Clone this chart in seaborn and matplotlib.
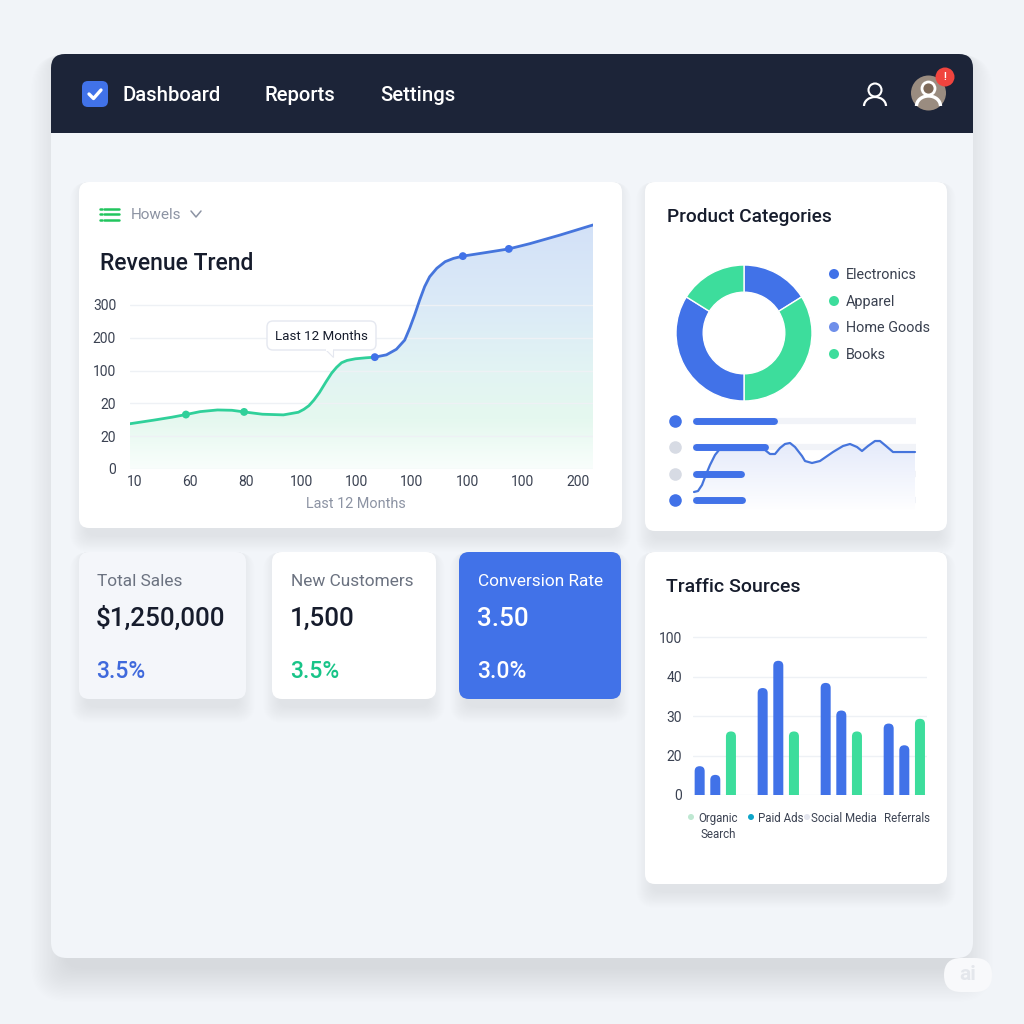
import matplotlib
matplotlib.use("Agg")
import matplotlib.pyplot as plt
from matplotlib.patches import FancyBboxPatch, Circle, Arc, Polygon, Rectangle
from matplotlib.transforms import ScaledTranslation
import seaborn as sns
import numpy as np
import pandas as pd

# Revenue trend, in grid steps as drawn (the axis labels are not linear)
rev_ticks = [0, 1, 2, 3, 4, 5]
rev_tick_labels = ['0', '20', '20', '100', '200', '300']
month_ticks = [0, 1, 2, 3, 4, 5, 6, 7, 8]
month_labels = ['10', '60', '80', '100', '100', '100', '100', '100', '200']
rev_x = [-0.09, 0.34, 0.67, 0.92, 1.18, 1.49, 1.75, 1.97, 2.30, 2.68, 2.95, 3.05, 3.14, 3.23, 3.33, 3.45, 3.55, 3.64,
         3.73, 3.83, 3.98, 4.17, 4.33, 4.54, 4.72, 4.87, 4.96, 5.05, 5.14, 5.23, 5.32, 5.45, 5.60, 5.75, 5.92, 6.34,
         6.75, 7.13, 7.67, 8.27]
rev_y = [1.38, 1.49, 1.58, 1.66, 1.75, 1.80, 1.79, 1.74, 1.67, 1.65, 1.73, 1.82, 1.93, 2.10, 2.33, 2.66, 2.92, 3.10,
         3.24, 3.31, 3.36, 3.39, 3.41, 3.48, 3.65, 3.93, 4.29, 4.70, 5.15, 5.56, 5.86, 6.12, 6.32, 6.42, 6.49, 6.60,
         6.71, 6.87, 7.13, 7.44]
rev_split = 22
marker_idx = [3, 7, 22, 34, 36]

# Product categories
cat_names = ['Electronics', 'Apparel', 'Home Goods', 'Books']
cat_shares = [16.1, 33.9, 33.9, 16.1]

# Mini panel in the product card
progress_done = [84, 75, 51, 52]
spark_x = [1, 5, 9, 12, 17, 22, 26, 72, 77, 82, 87, 92, 97, 102, 109, 112, 119, 127, 140, 150, 157, 164, 169, 175,
           182, 187, 193, 200, 207, 222]
spark_y = [18, 19, 25, 33, 45, 55, 60, 60, 56, 56, 62, 66, 67, 63, 54, 49, 47, 49, 58, 64, 66, 63, 59, 64,
           69, 69, 64, 58, 58, 58]

# Traffic sources
traffic_cats = ['Organic\nSearch', 'Paid Ads', 'Social Media', 'Referrals']
traffic_a = [7.3, 27.1, 28.4, 18.1]
traffic_b = [5.1, 34.0, 21.4, 12.6]
traffic_c = [16.1, 16.1, 16.1, 19.3]
traffic_ticks = [0, 10, 20, 30, 40]
traffic_tick_labels = ['0', '20', '30', '40', '100']

# KPI cards
kpi_titles = ['Total Sales', 'New Customers', 'Conversion Rate']
kpi_values = ['$1,250,000', '1,500', '3.50']
kpi_changes = ['3.5%', '3.5%', '3.0%']

BLUE = '#4172E8'
GREEN = '#3DDD9C'
LINE_GREEN = '#30D09A'
LINE_BLUE = '#4675DC'
NAVY = '#1C2438'
INK = '#161C2C'
GREY = '#6F7684'
TICK = '#3B4252'
GRID = '#EEF1F5'

sns.set_theme(style="white")
plt.rcParams['font.family'] = ['Roboto', 'DejaVu Sans']

fig = plt.figure(figsize=(10.24, 10.24), dpi=100, facecolor='#F1F4F8')


def px_axes(left, top, right, bottom, zorder=1):
    ax = fig.add_axes([left / 1024, 1 - bottom / 1024, (right - left) / 1024, (bottom - top) / 1024], zorder=zorder)
    ax.patch.set_alpha(0)
    return ax


def round_box(ax, x0, y0, x1, y1, r, **kw):
    box = FancyBboxPatch((x0, y0), x1 - x0, y1 - y0, boxstyle=f"round,pad=0,rounding_size={r}", linewidth=kw.pop('lw', 0), **kw)
    ax.add_patch(box)
    return box


def card(ax, x0, y0, x1, y1, r=10, color='white', spread=16, drop=8, inset=7, alpha=0.0022, layers=18):
    # soft shadow from stacked boxes, mostly below the card
    for s in np.linspace(spread, 0.5, layers):
        side = s - inset
        round_box(ax, x0 - side, y0, x1 + side, y1 + drop + s, r + max(side, 0), facecolor='#4A5A7A', alpha=alpha)
    round_box(ax, x0, y0, x1, y1, r, facecolor=color)


bg = px_axes(0, 0, 1024, 1024, zorder=0)
bg.set_xlim(0, 1024)
bg.set_ylim(1024, 0)
bg.axis('off')

top = px_axes(0, 0, 1024, 1024, zorder=3)
top.set_xlim(0, 1024)
top.set_ylim(1024, 0)
top.axis('off')

# main panel + nav bar
card(bg, 51, 54, 973, 958, r=16, color='#F2F5F9', spread=34, drop=10, inset=14, alpha=0.004, layers=26)
round_box(bg, 51, 54, 973, 110, 14, facecolor=NAVY)
bg.add_patch(Rectangle((51, 75), 922, 57.5, facecolor=NAVY, linewidth=0))

round_box(bg, 82, 81, 108, 107, 6, facecolor=BLUE)
bg.plot([89, 93.5, 101], [94, 98.5, 90], color='white', lw=2.4, solid_capstyle='round', solid_joinstyle='round')
for label, x in zip(['Dashboard', 'Reports', 'Settings'], [122, 265, 380]):
    bg.text(x, 95.5, label, color='white', fontsize=14.6, va='center', ha='left', fontweight='medium')

# nav icons
bg.add_patch(Circle((875, 90), 6.5, fill=False, ec='white', lw=1.5))
bg.add_patch(Arc((875, 106), 22, 18, theta1=180, theta2=360, ec='white', lw=1.6))
bg.add_patch(Circle((928.5, 93), 17.5, fc='#9A8C80', lw=0))
bg.add_patch(Circle((928.5, 88.5), 6.5, fc='#7E6A5A', ec='white', lw=2))
bg.add_patch(Arc((928.5, 106), 24, 20, theta1=180, theta2=360, ec='white', lw=2.4))
bg.add_patch(Circle((945, 77), 9.5, fc='#F0443E', lw=0))
bg.text(945, 77, '!', color='white', fontsize=7, ha='center', va='center', fontweight='bold')

# cards
card(bg, 79, 182, 622, 528)
card(bg, 645, 182, 947, 531)
card(bg, 645, 552, 947, 884)
kpi_boxes = [(79, 246, '#F4F6FA'), (272, 436, 'white'), (459, 621, BLUE)]
kpi_title_colors = ['#6B7280', '#6B7280', 'white']
kpi_value_colors = [INK, INK, 'white']
kpi_change_colors = ['#3F69DC', '#18C488', 'white']
kpi_text_x = [97, 291, 478]
for i, (x0, x1, color) in enumerate(kpi_boxes):
    card(bg, x0, 552, x1, 699, color=color)
    bg.text(kpi_text_x[i], 582, kpi_titles[i], color=kpi_title_colors[i], fontsize=12.4, va='center')
    bg.text(kpi_text_x[i] - 1, 618.5, kpi_values[i], color=kpi_value_colors[i], fontsize=18.7, va='center', fontweight='medium')
    bg.text(kpi_text_x[i] - 1, 671.5, kpi_changes[i], color=kpi_change_colors[i], fontsize=16.5, va='center', fontweight='medium')

# watermark
round_box(bg, 944, 958, 992, 992, 17, facecolor='#F8F9FB')
bg.text(968, 975, 'ai', color='#E4E7EC', fontsize=15, ha='center', va='center', fontweight='bold')

# revenue card header
for y in [208.5, 214, 219.5]:
    bg.plot([104, 119], [y, y], color='#22C55E', lw=1.8)
    bg.plot([100, 102], [y, y], color='#22C55E', lw=1.8)
bg.text(131, 215, 'Howels', color='#8C93A3', fontsize=11, va='center')
bg.plot([191, 196, 201], [211, 217, 211], color='#8C93A3', lw=1.1)
bg.text(100, 263, 'Revenue Trend', color=INK, fontsize=16.5, va='center', fontweight='medium')
bg.text(667, 217, 'Product Categories', color=INK, fontsize=13.7, va='center', fontweight='medium')
bg.text(666, 587, 'Traffic Sources', color=INK, fontsize=14, va='center', fontweight='medium')

# revenue chart
ax = px_axes(130, 222, 593, 469)
rev = pd.DataFrame({'x': rev_x, 'y': rev_y})
stops_y = [0, 1.5, 3, 5, 7.5]
stops_c = np.array([[249, 254, 252], [229, 248, 239], [226, 244, 243], [219, 234, 247], [211, 225, 248]]) / 255
ys = np.linspace(0, 7.55, 200)
grad = np.stack([np.interp(ys, stops_y, stops_c[:, k]) for k in range(3)], axis=1)[:, None, :]
area = ax.fill_between(rev_x, rev_y, 0, color='none')
img = ax.imshow(grad, extent=(-0.09, 8.27, 0, 7.55), origin='lower', aspect='auto', zorder=0)
img.set_clip_path(area.get_paths()[0], transform=ax.transData)
# overlap one row so the two colours join up
line_df = pd.concat([rev.iloc[:rev_split + 1].assign(part='a'), rev.iloc[rev_split:].assign(part='b')])
sns.lineplot(data=line_df, x='x', y='y', hue='part', palette={'a': LINE_GREEN, 'b': LINE_BLUE}, lw=2, legend=False,
             sort=False, estimator=None, ax=ax, zorder=3)
marks = rev.iloc[marker_idx]
sns.scatterplot(x=marks['x'].values, y=marks['y'].values, hue=['a', 'a', 'b', 'b', 'b'],
                palette={'a': LINE_GREEN, 'b': BLUE}, s=32, linewidth=0, legend=False, ax=ax, zorder=4)
ax.set_xlim(-0.09, 8.27)
ax.set_ylim(0, 7.53)
ax.set_xticks(month_ticks, month_labels)
ax.set_yticks(rev_ticks, rev_tick_labels)
ax.set_xlabel('')
ax.set_ylabel('')
ax.tick_params(length=0, labelsize=10, labelcolor=TICK)
ax.tick_params(axis='y', pad=10)
ax.tick_params(axis='x', pad=4)
ax.grid(axis='y', color=GRID, lw=1, zorder=1)
ax.set_axisbelow(True)
sns.despine(ax=ax, left=True, bottom=True)
bg.text(356, 504, 'Last 12 Months', color='#8C93A3', fontsize=10.4, ha='center', va='center')

# tooltip
top.add_patch(Polygon([[325, 349], [333, 349], [333, 357]], closed=True, fc='white', ec='#E5E8F0', lw=0.8))
round_box(top, 267, 321, 376, 350, 6, facecolor='white', edgecolor='#E5E8F0', lw=1)
top.add_patch(Rectangle((326, 348), 6.5, 3, fc='white', lw=0))
top.text(321.5, 336, 'Last 12 Months', color=INK, fontsize=9.6, ha='center', va='center')

# donut
pie_ax = px_axes(670, 259, 818, 407)
pie_colors = [BLUE, GREEN, BLUE, GREEN]
pie_ax.pie(cat_shares, colors=pie_colors, startangle=90, counterclock=False, radius=1,
           wedgeprops=dict(width=0.4, edgecolor='white', linewidth=1))
pie_ax.set_xlim(-74 / 68, 74 / 68)
pie_ax.set_ylim(-74 / 68, 74 / 68)
legend_colors = [BLUE, GREEN, '#6F8FEA', GREEN]
for name, color, y in zip(cat_names, legend_colors, [274, 301, 327, 354]):
    bg.add_patch(Circle((834, y), 5, fc=color, lw=0))
    bg.text(846, y + 1, name, color='#39404F', fontsize=10.4, va='center')

# mini progress panel
mini = px_axes(693, 410, 917, 510)
rows_y = [89, 63, 36, 10]
dot_colors = [BLUE, '#D7DBE4', '#D7DBE4', BLUE]
spark_fill = mini.fill_between(spark_x, spark_y, 0, color='none')
fade = np.array([[254, 254, 255], [228, 234, 250]]) / 255
fade = np.stack([np.linspace(fade[0, k], fade[1, k], 70) for k in range(3)], axis=1)[:, None, :]
fill_img = mini.imshow(fade, extent=(0, 224, 0, 70), origin='lower', aspect='auto', zorder=1)
fill_img.set_clip_path(spark_fill.get_paths()[0], transform=mini.transData)
for y, done, color in zip(rows_y, progress_done, dot_colors):
    mini.plot([0, 223], [y, y], color='#F1F3F8', lw=4.5, solid_capstyle='butt', zorder=0.5)
    mini.plot([3, done - 3], [y, y], color=BLUE, lw=5, solid_capstyle='round', zorder=4)
    mini.scatter([-18], [y], s=82, color=color, linewidth=0, clip_on=False, zorder=4)
sns.lineplot(x=spark_x, y=spark_y, color=LINE_BLUE, lw=1.6, sort=False, estimator=None, ax=mini, zorder=3)
mini.set_xlim(0, 224)
mini.set_ylim(0, 100)
mini.axis('off')

# traffic bars
bar_ax = px_axes(693, 630, 927, 795)
traffic = pd.DataFrame({
    'source': traffic_cats * 3,
    'series': ['a'] * 4 + ['b'] * 4 + ['c'] * 4,
    'value': traffic_a + traffic_b + traffic_c,
})
sns.barplot(data=traffic, x='source', y='value', hue='series', palette={'a': BLUE, 'b': BLUE, 'c': GREEN},
            width=0.745, gap=0.36, saturation=1, legend=False, ax=bar_ax, zorder=3)
bar_ax.set_xlim(-0.354, 3.36)
bar_ax.set_ylim(0, 41.8)
# swap the square bars for rounded ones
for bar in list(bar_ax.patches):
    x, y, w, h = bar.get_x(), bar.get_y(), bar.get_width(), bar.get_height()
    rounded = FancyBboxPatch((x, y - 2), w, h + 2, boxstyle=f"round,pad=0,rounding_size={w / 2}",
                             mutation_aspect=15.9, facecolor=bar.get_facecolor(), linewidth=0, zorder=3)
    bar.remove()
    bar_ax.add_patch(rounded)
bar_ax.set_yticks(traffic_ticks, traffic_tick_labels)
bar_ax.set_xlabel('')
bar_ax.set_ylabel('')
bar_ax.grid(axis='y', color=GRID, lw=1, zorder=0)
bar_ax.set_axisbelow(True)
bar_ax.tick_params(length=0, labelcolor=TICK)
bar_ax.tick_params(axis='y', labelsize=10, pad=8)
bar_ax.tick_params(axis='x', labelsize=8.3, pad=12)
shift = ScaledTranslation(2.5 / 100, 0, fig.dpi_scale_trans)
for lab in bar_ax.get_xticklabels():
    lab.set_linespacing(1.35)
    lab.set_transform(lab.get_transform() + shift)
sns.despine(ax=bar_ax, left=True, bottom=True)
for x, color in zip([691, 751, 807], ['#BFE8D2', '#0EA5C9', '#E3E5EE']):
    bg.add_patch(Circle((x, 817), 3, fc=color, lw=0))

fig.savefig('out.png', dpi=100, facecolor=fig.get_facecolor())
